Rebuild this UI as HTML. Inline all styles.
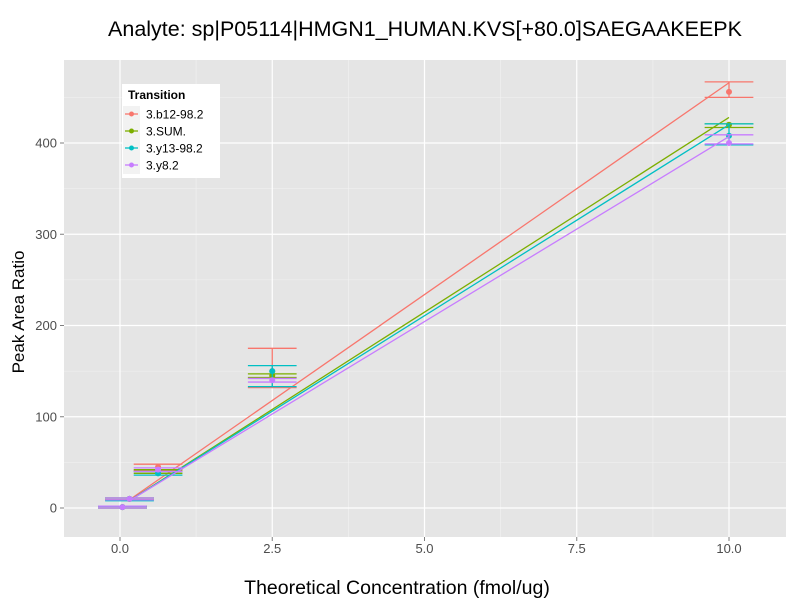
<!DOCTYPE html>
<html><head><meta charset="utf-8"><style>
body{margin:0;background:#fff;font-family:"Liberation Sans",sans-serif}
</style></head><body>
<svg id="c" width="800" height="600" xmlns="http://www.w3.org/2000/svg"></svg>
<script>
const series=["3.b12-98.2","3.SUM.","3.y13-98.2","3.y8.2"];
const colors=["#F8766D","#7CAE00","#00BFC4","#C77CFF"];
const xs=[0.04,0.156,0.625,2.5,10];
const means=[[1,10,45,150,456],[1,10,40,145,420],[1,10,38,150,408],[1,10,42,140,400]];
const lows=[[0,9,41,132,450],[0,9,38,143,417],[0,8,36,133,398],[0,9,40,138,399]];
const highs=[[2,11,48,175,467],[2,11,42,147,421],[2,11,40,156,421],[2,11,44,142,409]];
const fitStart=[9,8,8,8];
const fitEnd=[466,428,420,407];
const xTicks=[0,2.5,5,7.5,10];
const xTickLabels=["0.0","2.5","5.0","7.5","10.0"];
const yTicks=[0,100,200,300,400];
const NS="http://www.w3.org/2000/svg";
const svg=document.getElementById('c');
const X=v=>120+v*60.9, Y=v=>508-v*0.9125;
function el(t,a,p){const e=document.createElementNS(NS,t);for(const k in a)e.setAttribute(k,a[k]);(p||svg).appendChild(e);return e;}
const panel=el('rect',{x:64,y:60,width:722,height:477,fill:'#E5E5E5'});

for(let i=0;i<xTicks.length-1;i++){const m=(xTicks[i]+xTicks[i+1])/2;el('line',{x1:X(m),x2:X(m),y1:60,y2:537,stroke:'#F2F2F2','stroke-width':0.6});}
for(let i=0;i<yTicks.length-1;i++){const m=(yTicks[i]+yTicks[i+1])/2;el('line',{x1:64,x2:786,y1:Y(m),y2:Y(m),stroke:'#F2F2F2','stroke-width':0.6});}
el('line',{x1:64,x2:786,y1:Y(450),y2:Y(450),stroke:'#F2F2F2','stroke-width':0.6});
xTicks.forEach((v,i)=>{el('line',{x1:X(v),x2:X(v),y1:60,y2:537,stroke:'#fff','stroke-width':1.2});
el('line',{x1:X(v),x2:X(v),y1:537,y2:541,stroke:'#7f7f7f'});
const t=el('text',{x:X(v),y:553,'text-anchor':'middle','font-size':13,fill:'#4d4d4d'});t.textContent=xTickLabels[i];
});
yTicks.forEach(v=>{el('line',{x1:64,x2:786,y1:Y(v),y2:Y(v),stroke:'#fff','stroke-width':1.2});
el('line',{x1:60,x2:64,y1:Y(v),y2:Y(v),stroke:'#7f7f7f'});
const t=el('text',{x:57,y:Y(v)+4.5,'text-anchor':'end','font-size':13,fill:'#4d4d4d'});t.textContent=v;
});
series.forEach((s,k)=>{const g=el('g',{});

const ln=el('line',{x1:X(xs[1]),y1:Y(fitStart[k]),x2:X(10),y2:Y(fitEnd[k]),stroke:colors[k],'stroke-width':1.3},g);

xs.forEach((x,i)=>{const hw=0.4*60.9;
el('line',{x1:X(x)-hw,x2:X(x)+hw,y1:Y(highs[k][i]),y2:Y(highs[k][i]),stroke:colors[k],'stroke-width':1.3},g);
el('line',{x1:X(x)-hw,x2:X(x)+hw,y1:Y(lows[k][i]),y2:Y(lows[k][i]),stroke:colors[k],'stroke-width':1.3},g);
el('line',{x1:X(x),x2:X(x),y1:Y(highs[k][i]),y2:Y(lows[k][i]),stroke:colors[k],'stroke-width':1.3},g);
const p=el('circle',{cx:X(x),cy:Y(means[k][i]),r:3,fill:colors[k]},g);
});});
const lg=el('g',{});
el('rect',{x:122,y:84,width:98,height:94,fill:'#fff'},lg);
const lt=el('text',{x:128,y:99,'font-size':12,'font-weight':'bold'},lg);lt.textContent='Transition';
series.forEach((s,k)=>{const y=114+k*17;
el('rect',{x:123,y:y-8,width:17,height:17,fill:'#F2F2F2'},lg);
el('line',{x1:125,x2:138,y1:y,y2:y,stroke:colors[k],'stroke-width':1.3},lg);
el('circle',{cx:131.5,cy:y,r:2.5,fill:colors[k]},lg);
const t=el('text',{x:146,y:y+4.5,'font-size':12},lg);t.textContent=s;
});
const ti=el('text',{x:425,y:36,'text-anchor':'middle','font-size':21.5},svg);ti.textContent='Analyte: sp|P05114|HMGN1_HUMAN.KVS[+80.0]SAEGAAKEEPK';

const xl=el('text',{x:397,y:594,'text-anchor':'middle','font-size':19.5},svg);xl.textContent='Theoretical Concentration (fmol/ug)';

const yl=el('text',{x:0,y:0,'text-anchor':'middle','font-size':17,transform:'translate(24,312) rotate(-90)'},svg);yl.textContent='Peak Area Ratio';

</script>
</body></html>
